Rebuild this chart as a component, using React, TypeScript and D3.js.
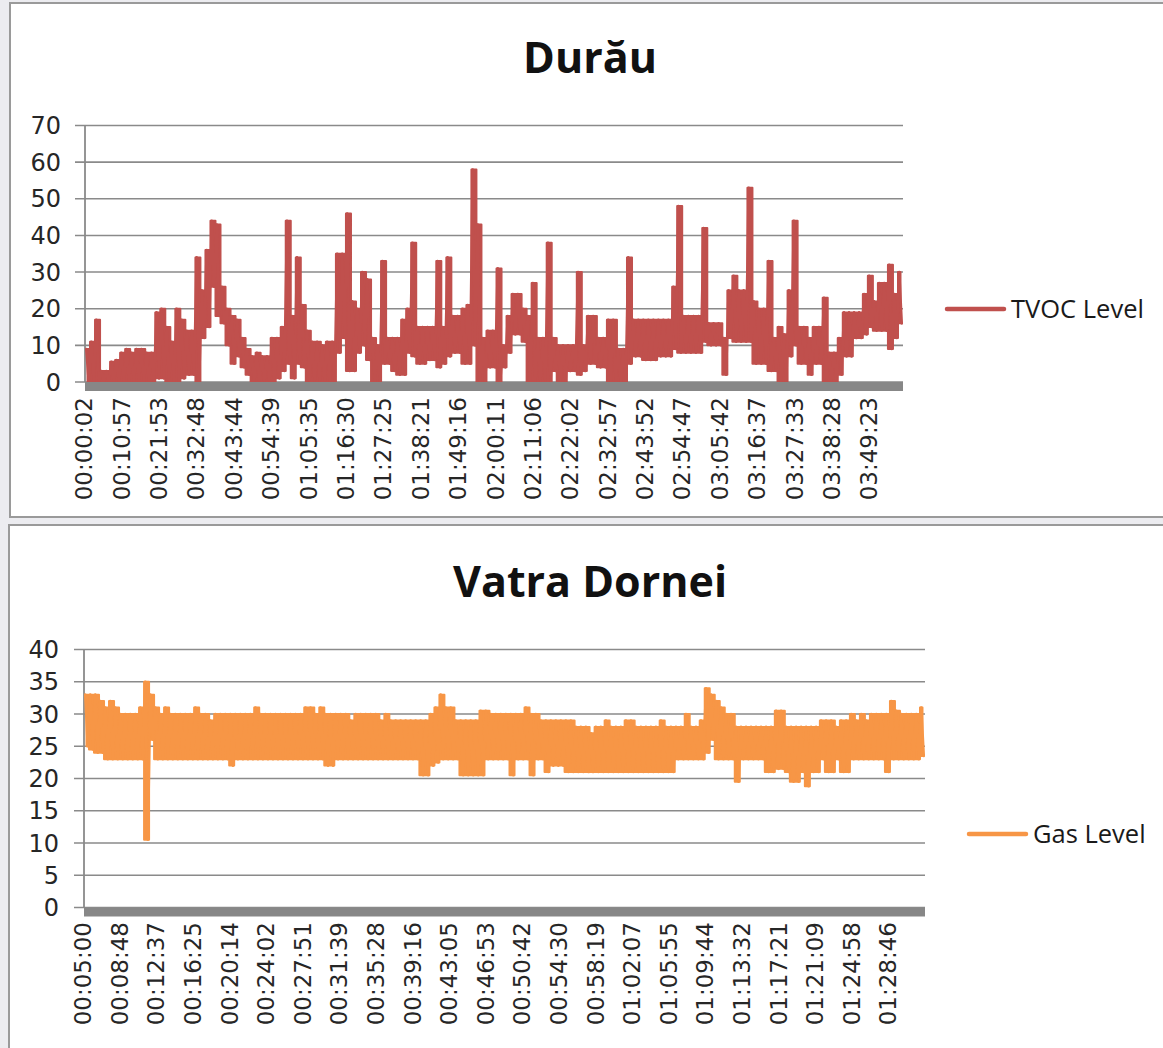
import React from 'react';
import * as d3 from 'd3';

// ---------- Chart 1: Durău (TVOC) ----------
const tvocTitle = 'Durău';
const tvocSeriesName = 'TVOC Level';
const tvocYTicks = [0, 10, 20, 30, 40, 50, 60, 70];
const tvocXLabels = [
  '00:00:02', '00:10:57', '00:21:53', '00:32:48', '00:43:44', '00:54:39', '01:05:35', '01:16:30',
  '01:27:25', '01:38:21', '01:49:16', '02:00:11', '02:11:06', '02:22:02', '02:32:57', '02:43:52',
  '02:54:47', '03:05:42', '03:16:37', '03:27:33', '03:38:28', '03:49:23',
];
const tvocTimeRange = ['00:00:02', '03:59:01'];
// per reading interval: highest and lowest reading
const tvocPeaks = [
  9, 11, 17, 3, 3, 5.5, 6, 8, 9, 8, 9, 9, 8, 8, 19, 20, 15, 11, 20, 17,
  14, 14, 34, 25, 36, 44, 43, 26, 20, 18, 17, 12, 9, 7, 8, 7, 7, 12, 12, 15,
  44, 18, 34, 21, 14, 11, 11, 10, 11, 11, 35, 35, 46, 22, 20, 30, 28, 12, 10, 33,
  12, 12, 12, 17, 20, 38, 15, 15, 15, 15, 33, 15, 34, 18, 18, 20, 21, 58, 43, 12,
  14, 14, 31, 10, 18, 24, 24, 20, 18, 27, 12, 12, 38, 12, 10, 10, 10, 10, 30, 10,
  18, 18, 12, 12, 17, 17, 9, 9, 34, 17, 17, 17, 17, 17, 17, 17, 17, 26, 48, 18,
  18, 18, 18, 42, 16, 16, 16, 12, 25, 29, 25, 25, 53, 22, 20, 20, 33, 12, 15, 13,
  25, 44, 15, 15, 12, 15, 15, 23, 8, 8, 12, 19, 19, 19, 19, 24, 29, 22, 27, 27,
  32, 24, 30,
];
const tvocTroughs = [
  0, 0, 0, 0, 0, 0, 0, 0, 0, 0, 0, 0, 0, 0, 1, 1, 0, 0, 0, 1,
  2, 2, 0, 12, 15, 26, 18, 16, 10, 5, 7, 4, 2, 0, 0, 0, 0, 0, 1, 3,
  5, 1, 5, 4, 0, 0, 0, 0, 0, 0, 8, 12, 3, 3, 8, 10, 6, 0, 0, 5,
  5, 3, 2, 2, 8, 7, 5, 5, 6, 6, 4, 5, 7, 8, 8, 5, 5, 10, 0, 0,
  4, 4, 0, 4, 8, 13, 13, 11, 0, 0, 0, 0, 0, 3, 0, 0, 3, 3, 2, 3,
  5, 5, 4, 4, 0, 0, 0, 0, 5, 7, 7, 6, 6, 6, 7, 7, 7, 9, 8, 8,
  8, 8, 8, 11, 10, 10, 10, 2, 12, 11, 11, 11, 11, 5, 5, 5, 3, 3, 0, 0,
  7, 10, 5, 5, 2, 5, 5, 0, 0, 0, 2, 7, 7, 12, 12, 13, 15, 14, 14, 14,
  9, 12, 16,
];

// ---------- Chart 2: Vatra Dornei (Gas) ----------
const gasTitle = 'Vatra Dornei';
const gasSeriesName = 'Gas Level';
const gasYTicks = [0, 5, 10, 15, 20, 25, 30, 35, 40];
const gasXLabels = [
  '00:05:00', '00:08:48', '00:12:37', '00:16:25', '00:20:14', '00:24:02', '00:27:51', '00:31:39',
  '00:35:28', '00:39:16', '00:43:05', '00:46:53', '00:50:42', '00:54:30', '00:58:19', '01:02:07',
  '01:05:55', '01:09:44', '01:13:32', '01:17:21', '01:21:09', '01:24:58', '01:28:46',
];
const gasTimeRange = ['00:05:00', '01:32:31'];
const gasPeaks = [
  33, 33, 33, 32, 31, 32, 31, 30, 30, 30, 30, 31, 35, 33, 31, 30, 31, 30, 30, 30,
  30, 30, 31, 30, 30, 29, 30, 30, 30, 30, 30, 30, 30, 30, 31, 30, 30, 30, 30, 30,
  30, 30, 30, 30, 31, 31, 30, 31, 30, 30, 30, 30, 30, 29, 30, 30, 30, 30, 30, 29,
  30, 29, 29, 29, 29, 29, 29, 29, 29, 30, 31, 33, 31, 31, 29, 29, 29, 29, 29, 30.5,
  30.5, 30, 30, 30, 30, 30, 30, 30, 31, 30, 30, 29, 29, 29, 29, 29, 29, 29, 28, 28,
  28, 27, 28, 28, 29, 28, 28, 28, 29, 29, 28, 28, 28, 28, 28, 29, 28, 28, 28, 28,
  30, 28, 28, 29, 34, 33, 32, 31, 30, 30, 28, 28, 28, 28, 28, 28, 28, 28, 30.5, 30.5,
  28, 28, 28, 28, 28, 28, 28, 29, 29, 29, 28, 29, 29, 30, 29, 30, 29, 30, 30, 30,
  30, 32, 30.5, 30, 30, 30, 30, 31,
];
const gasTroughs = [
  25, 24.5, 24, 24, 23, 23, 23, 23, 23, 23, 23, 23, 10.5, 26, 23, 23, 23, 23, 23, 23,
  23, 23, 23, 23, 23, 23, 23, 23, 23, 22, 23, 23, 23, 23, 23, 23, 23, 23, 23, 23,
  23, 23, 23, 23, 23, 23, 23, 23, 22, 22, 23, 23, 23, 23, 23, 23, 23, 23, 23, 23,
  23, 23, 23, 23, 23, 23, 23, 20.5, 20.5, 22, 22.5, 23, 23, 23, 23, 20.5, 20.5, 20.5, 20.5, 20.5,
  23, 23, 23, 23, 23, 20.5, 23, 23, 23, 20.5, 23, 23, 21, 22, 22, 22, 21, 21, 21, 21,
  21, 21, 21, 21, 21, 21, 21, 21, 21, 21, 21, 21, 21, 21, 21, 21, 21, 21, 23, 23,
  23, 23, 23, 23, 24, 26, 23, 23, 23, 23, 19.5, 23, 23, 23, 23, 23, 21, 21, 21.5, 21.5,
  21, 19.5, 19.5, 21, 18.8, 21, 21, 23, 21, 21, 23, 21, 21, 23, 23, 23, 23, 23, 23, 23,
  21, 23, 23, 23, 23, 23, 23, 23.5,
];

const toSec = (s: string) => {
  const [h, m, sec] = s.split(':').map(Number);
  return h * 3600 + m * 60 + sec;
};

type ChartProps = {
  title: string;
  seriesName: string;
  color: string;
  yTicks: number[];
  xLabels: string[];
  timeRange: string[];
  peaks: number[];
  troughs: number[];
  box: { x: number; y: number; w: number; h: number };
  plot: { left: number; right: number; top: number; bottom: number };
  titleY: number;
  labelTop: number;
  legend: { x1: number; x2: number; y: number; textX: number };
  labelRight: number;
};

type Bin = { t: number; hi: number; lo: number };

function LineChart(p: ChartProps) {
  const t0 = toSec(p.timeRange[0]);
  const t1 = toSec(p.timeRange[1]);
  const x = d3.scaleLinear().domain([t0, t1]).range([p.plot.left, p.plot.right]);
  const y = d3
    .scaleLinear()
    .domain([0, d3.max(p.yTicks) as number])
    .range([p.plot.bottom, p.plot.top]);

  const nb = p.peaks.length;
  const step = (t1 - t0) / nb;
  const bins: Bin[] = p.peaks.map((hi, i) => ({ t: t0 + step * (i + 0.5), hi, lo: p.troughs[i] }));

  // band covered by the dense readings in each interval
  const band = d3
    .area<Bin>()
    .curve(d3.curveStep)
    .x((d) => x(d.t))
    .y0((d) => y(d.lo))
    .y1((d) => y(d.hi));

  // the reading trace: peak then trough within each interval
  const pts: [number, number][] = bins.flatMap((b) => [
    [b.t - step / 4, b.hi] as [number, number],
    [b.t + step / 4, b.lo] as [number, number],
  ]);
  const line = d3
    .line<[number, number]>()
    .x((d) => x(d[0]))
    .y((d) => y(d[1]));

  const grid = '#8a8a8a';
  return (
    <g>
      <rect x={p.box.x} y={p.box.y} width={p.box.w} height={p.box.h} fill="#ffffff" stroke="#9a9a9a" strokeWidth={2} />
      <text
        x={590}
        y={p.titleY}
        textAnchor="middle"
        fontFamily="'Open Sans', sans-serif"
        fontWeight="bold"
        fontSize={43}
        fill="#111"
      >
        {p.title}
      </text>
      {p.yTicks.map((t) => (
        <g key={t}>
          <line x1={p.plot.left - 10} x2={p.plot.right} y1={y(t)} y2={y(t)} stroke={grid} strokeWidth={1.6} />
          <text
            x={p.labelRight}
            y={y(t)}
            dy="0.36em"
            textAnchor="end"
            fontFamily="'DejaVu Sans', sans-serif"
            fontSize={24}
            fill="#262626"
          >
            {t}
          </text>
        </g>
      ))}
      <line x1={p.plot.left} x2={p.plot.left} y1={p.plot.top} y2={p.plot.bottom} stroke={grid} strokeWidth={1.8} />
      <path d={band(bins) || ''} fill={p.color} stroke={p.color} strokeWidth={2} strokeLinejoin="round" />
      <path d={line(pts) || ''} fill="none" stroke={p.color} strokeWidth={2.6} strokeLinejoin="round" strokeLinecap="round" />
      <rect x={p.plot.left} y={p.plot.bottom} width={p.plot.right - p.plot.left} height={9} fill="#878787" />
      {p.xLabels.map((l) => (
        <text
          key={l}
          transform={`translate(${x(toSec(l)) - 1},${p.labelTop}) rotate(-90)`}
          textAnchor="end"
          dy="0.36em"
          fontFamily="'DejaVu Sans', sans-serif"
          fontSize={23}
          fill="#262626"
        >
          {l}
        </text>
      ))}
      <line x1={p.legend.x1} x2={p.legend.x2} y1={p.legend.y} y2={p.legend.y} stroke={p.color} strokeWidth={4.5} strokeLinecap="round" />
      <text
        x={p.legend.textX}
        y={p.legend.y}
        dy="0.36em"
        fontFamily="'Open Sans', sans-serif"
        fontSize={25.5}
        fill="#1a1a1a"
      >
        {p.seriesName}
      </text>
    </g>
  );
}

export default function App() {
  return (
    <svg
      width={1163}
      height={1048}
      style={{ position: 'absolute', left: 0, top: 0, display: 'block' }}
    >
      <rect x={0} y={0} width={1163} height={1048} fill="#ececf0" />
      <LineChart
        title={tvocTitle}
        seriesName={tvocSeriesName}
        color="#C0504D"
        yTicks={tvocYTicks}
        xLabels={tvocXLabels}
        timeRange={tvocTimeRange}
        peaks={tvocPeaks}
        troughs={tvocTroughs}
        box={{ x: 10, y: 3, w: 1170, h: 514 }}
        plot={{ left: 85, right: 903, top: 125.5, bottom: 382 }}
        titleY={73}
        labelTop={397}
        labelRight={61}
        legend={{ x1: 947, x2: 1004, y: 309, textX: 1011 }}
      />
      <LineChart
        title={gasTitle}
        seriesName={gasSeriesName}
        color="#F79646"
        yTicks={gasYTicks}
        xLabels={gasXLabels}
        timeRange={gasTimeRange}
        peaks={gasPeaks}
        troughs={gasTroughs}
        box={{ x: 9, y: 525, w: 1170, h: 540 }}
        plot={{ left: 84, right: 925, top: 649.5, bottom: 907.5 }}
        titleY={597}
        labelTop={922}
        labelRight={59}
        legend={{ x1: 969, x2: 1026, y: 834, textX: 1033 }}
      />
    </svg>
  );
}
